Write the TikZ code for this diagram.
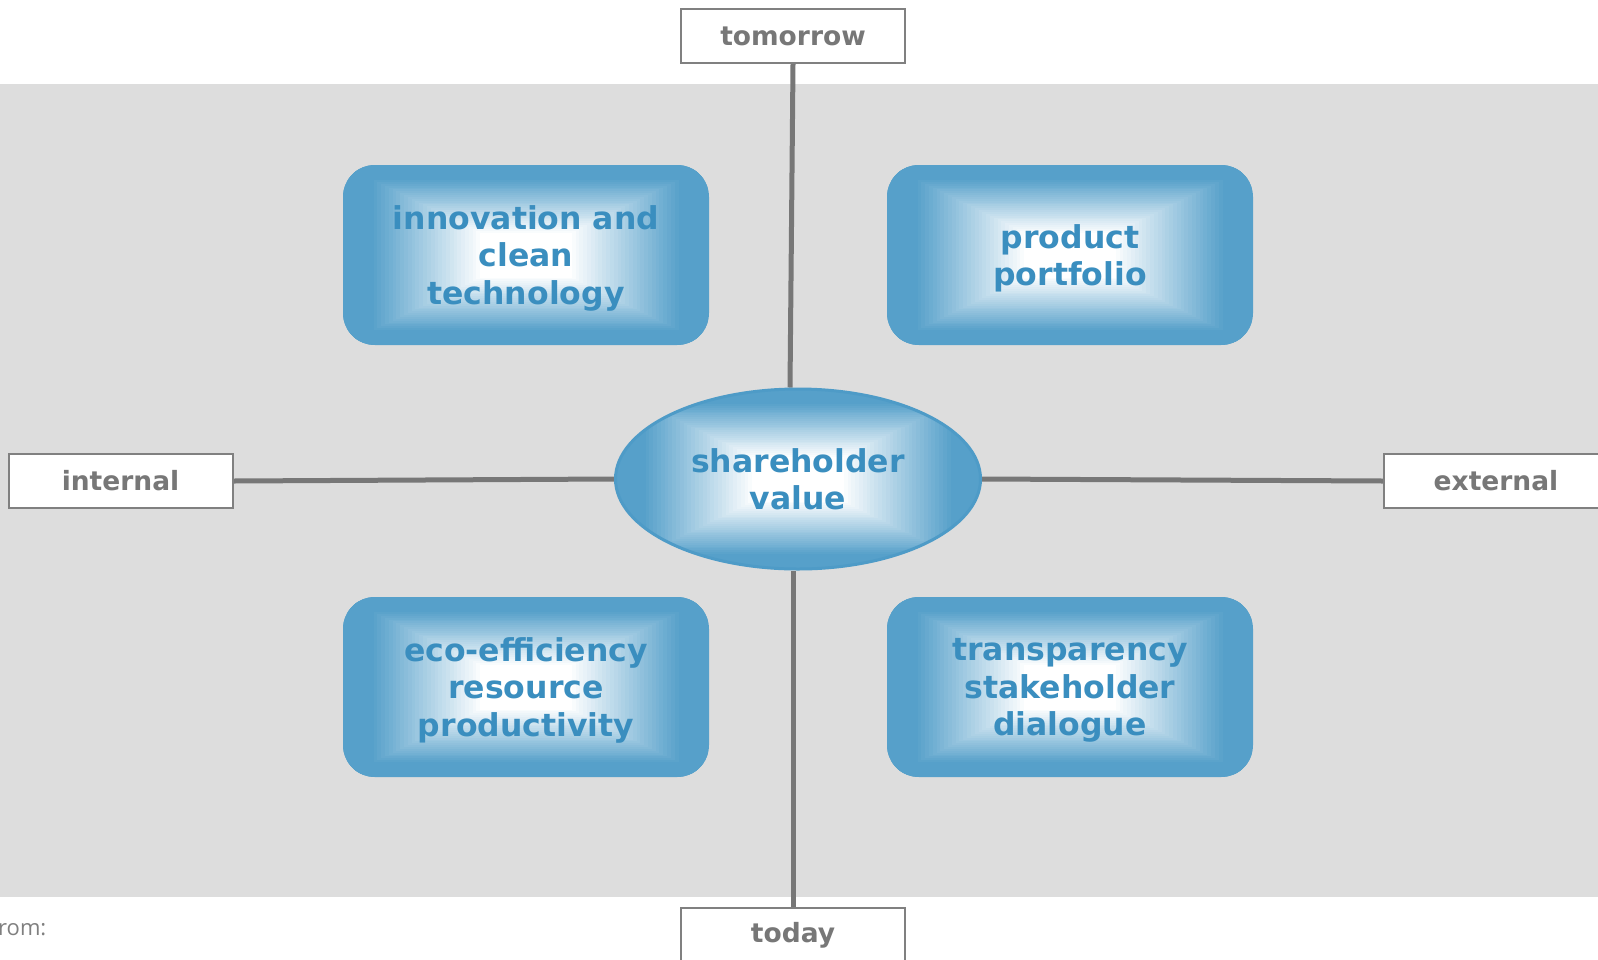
\documentclass[tikz,border=0pt]{standalone}
\usepackage{fontspec}
\setmainfont{DejaVu Sans}
\newfontfamily\notefont{Open Sans}
\usetikzlibrary{shapes.geometric,backgrounds}

\definecolor{bandgrey}{HTML}{DDDDDD}
\definecolor{axisgrey}{HTML}{777777}
\definecolor{framegrey}{HTML}{808080}
\definecolor{notegrey}{HTML}{7F7F7F}
\definecolor{edgeblue}{HTML}{56A0CA}
\definecolor{rimblue}{HTML}{4E9BC7}
\definecolor{textblue}{HTML}{3A8EBF}

% rectangular fade: blue at the rim, white in the middle
\tikzset{
  bevel/.style={fill=edgeblue, path picture={
    \foreach \k in {0,...,47} {
      \pgfmathsetmacro\s{1-\k/48}
      \pgfmathsetmacro\m{max(0,min(100,(\s-0.25)/0.6*100))}
      \fill[sharp corners, edgeblue!\m!white] ([shift={(-183*\s,-90*\s)}]path picture bounding box.center) rectangle ([shift={(183*\s,90*\s)}]path picture bounding box.center);
    }
  }},
}

\begin{document}
\begin{tikzpicture}[x=1pt, y=-1pt,
  tile/.style={bevel, rounded corners=32pt, minimum width=366pt, minimum height=180pt, inner sep=0pt, text=textblue, align=center, text depth=0pt, font=\fontsize{31.5}{37.5}\selectfont\bfseries},
  pole/.style={draw=framegrey, line width=2pt, fill=white, minimum width=224pt, minimum height=54pt, inner sep=0pt, text=axisgrey, font=\fontsize{26.5}{30}\selectfont\bfseries},
  axis line/.style={draw=axisgrey, line width=5pt}]
  \useasboundingbox (0,0) rectangle (1598,959);
  \clip (0,0) rectangle (1598,959);

  % centre and the four fields
  \node[ellipse, bevel, draw=rimblue, line width=3pt, minimum width=365pt, minimum height=180pt, inner sep=0pt, text=textblue, align=center, font=\fontsize{31.5}{37.5}\selectfont\bfseries] (value) at (798,479) {shareholder\\value};
  \node[tile] (innovation) at (526,255) {innovation and\\clean\\technology};
  \node[tile] (portfolio) at (1070,255) {product\\portfolio};
  \node[tile] (efficiency) at (526,687) {eco-efficiency\\resource\\productivity};
  \node[tile] (dialogue) at (1070,687) {transparency\\stakeholder\\dialogue};

  % axis ends
  \node[pole] (tomorrow) at (793,36) {tomorrow};
  \node[pole] (today) at (793,935) {today};
  \node[pole] (internal) at (120.5,481) {internal};
  \node[pole] (external) at (1496,481) {external};

  \node[anchor=base west, inner sep=0pt, text=notegrey, font=\notefont\fontsize{22}{26}\selectfont] (source) at (-2,935) {rom:};

  \begin{scope}[on background layer]
    \fill[bandgrey] (0,84) rectangle (1598,897);
    \draw[axis line] (tomorrow.south) -- ([xshift=-8pt]value.north);
    \draw[axis line] ([xshift=-5pt]value.south) -- (today.north);
    \draw[axis line] (internal.east) -- (value.west);
    \draw[axis line] (value.east) -- (external.west);
  \end{scope}
\end{tikzpicture}
\end{document}
